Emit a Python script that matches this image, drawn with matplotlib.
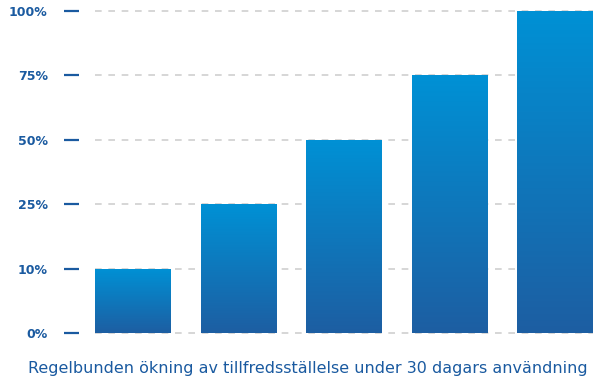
import numpy as np
import matplotlib
matplotlib.use("Agg")
import matplotlib.pyplot as plt
from matplotlib.colors import LinearSegmentedColormap

categories = ["A", "B", "C", "D", "E"]
values = [10, 25, 50, 75, 100]
tick_values = [0, 10, 25, 50, 75, 100]
tick_labels = ["0%", "10%", "25%", "50%", "75%", "100%"]
xlabel = "Regelbunden ökning av tillfredsställelse under 30 dagars användning"

label_color = "#1a5aa0"
grid_color = "#d0d0d0"
top_color = "#0091d5"
bottom_color = "#1d5ea2"

tv = np.array(tick_values, dtype=float)
tp = np.arange(len(tick_values), dtype=float)

def fwd(v):
    return np.interp(v, tv, tp)

def inv(p):
    return np.interp(p, tp, tv)

fig = plt.figure(figsize=(6.03, 3.85), dpi=100)
ax = fig.add_axes([95 / 603, 1 - 333 / 385, 498 / 603, 322 / 385])
ax.set_yscale("function", functions=(fwd, inv))

x = np.arange(len(categories))
width = 0.72
bars = ax.bar(x, values, width=width, color="none", zorder=2)
ax.set_xlim(-width / 2, len(categories) - 1 + width / 2)
ax.set_ylim(0, 100)

cmap = LinearSegmentedColormap.from_list("g", [bottom_color, top_color])
grad = np.linspace(0, 1, 256).reshape(-1, 1)
for b in bars:
    x0 = b.get_x()
    x1 = x0 + b.get_width()
    xl = ax.get_xlim()
    fx0 = (x0 - xl[0]) / (xl[1] - xl[0])
    fx1 = (x1 - xl[0]) / (xl[1] - xl[0])
    ftop = fwd(b.get_height()) / tp[-1]
    im = ax.imshow(grad, cmap=cmap, aspect="auto", origin="lower",
                   extent=[fx0, fx1, 0, ftop], transform=ax.transAxes,
                   zorder=2, interpolation="bilinear")
    im.set_clip_path(b)

ax.set_xlim(-width / 2, len(categories) - 1 + width / 2)
ax.set_ylim(0, 100)

ax.set_yticks(tick_values)
ax.set_yticklabels(tick_labels)
ax.yaxis.set_minor_locator(matplotlib.ticker.NullLocator())
ax.set_xticks([])
for s in ax.spines.values():
    s.set_visible(False)
ax.spines["left"].set_position(("outward", 11.5))
ax.tick_params(axis="y", length=11, width=1.6, color=label_color, pad=11.5,
               labelsize=9, labelcolor=label_color)
for t in ax.get_yticklabels():
    t.set_fontweight("bold")

ax.yaxis.grid(True, color=grid_color, linestyle=(0, (4, 4)), linewidth=1.2, zorder=0)
ax.set_axisbelow(True)
for gl in ax.get_ygridlines():
    gl.set_clip_on(False)

fig.text(308 / 603, 1 - 368 / 385, xlabel, color=label_color, fontsize=11.5,
         ha="center", va="center")

fig.savefig("out.png", dpi=100)
